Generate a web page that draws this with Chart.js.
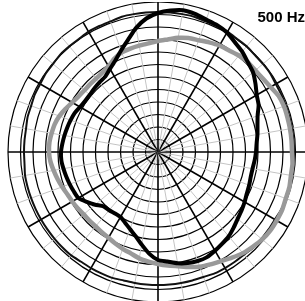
<!DOCTYPE html>
<html>
<head>
<meta charset="utf-8">
<script src="https://cdn.jsdelivr.net/npm/chart.js@4/dist/chart.umd.min.js"></script>
<style>
  html, body { margin: 0; padding: 0; background: #fff; overflow: hidden; }
  #wrap { position: relative; width: 305px; height: 301px; overflow: hidden; }
  #polar { position: absolute; left: 0; top: 2px; }
</style>
</head>
<body>
<div id="wrap">
  <canvas id="polar" width="316" height="300"></canvas>
</div>
<script>
// angles in degrees, clockwise from the top, 5 degree steps
const angles = [0,5,10,15,20,25,30,35,40,45,50,55,60,65,70,75,80,85,90,95,100,105,110,115,
  120,125,130,135,140,145,150,155,160,165,170,175,180,185,190,195,200,205,210,215,220,225,230,235,
  240,245,250,255,260,265,270,275,280,285,290,295,300,305,310,315,320,325,330,335,340,345,350,355];

// thick black curve
const blackCurve = [139,142,144,143,141,140,138,134,131,127,124,119,114,111,106,103,101,99,
  98,97,96,96,97,98,100,102,104,107,110,112,114,116,116,115,113,110,
  108,102,94,87,82,78,75,75,76,77,82,87,92,93,94,95,96,97,
  97,96,95,94,93,92,90,89,89,90,91,92,96,101,108,116,126,134];

// thick grey curve
const greyCurve = [111,113,116,118,119,121,123,124,126,127,127,128,130,133,134,134,134,134,
  134,135,135,136,136,137,137,137,136,134,132,129,126,124,122,119,116,114,
  112,110,108,105,103,101,99,98,97,97,97,98,99,100,102,104,106,108,
  109,109,108,107,105,102,99,97,96,96,96,97,99,103,106,107,108,109];

// medium black curve close to the outer rings
const outerCurve = [140,140,140,140,139,139,139,138,138,137,137,137,136,136,136,136,136,136,
  136,136,136,136,136,136,135,135,135,135,134,134,134,134,133,133,133,133,
  133,133,133,133,134,134,134,134,135,135,135,135,135,135,135,135,135,134,
  134,134,134,135,135,136,136,137,137,138,138,138,139,139,139,140,140,140];

const titleText = '500 Hz';

const titlePlugin = {
  id: 'freqLabel',
  afterDraw(chart) {
    const ctx = chart.ctx;
    ctx.save();
    ctx.fillStyle = '#000';
    ctx.font = 'bold 15px "Liberation Sans", Arial, sans-serif';
    ctx.textAlign = 'right';
    ctx.textBaseline = 'alphabetic';
    ctx.fillText(titleText, 305, 20);
    ctx.restore();
  }
};

new Chart(document.getElementById('polar'), {
  type: 'radar',
  data: {
    labels: angles,
    datasets: [
      {
        data: blackCurve,
        borderColor: '#000',
        borderWidth: 4,
        fill: false,
        pointRadius: 0,
        tension: 0.2
      },
      {
        data: greyCurve,
        borderColor: '#999',
        borderWidth: 4.5,
        fill: false,
        pointRadius: 0,
        tension: 0.2
      },
      {
        data: outerCurve,
        borderColor: '#111',
        borderWidth: 2,
        fill: false,
        pointRadius: 0,
        tension: 0.2
      }
    ]
  },
  options: {
    responsive: false,
    animation: false,
    events: [],
    layout: { padding: 0 },
    plugins: {
      legend: { display: false },
      tooltip: { enabled: false }
    },
    scales: {
      r: {
        min: 0,
        max: 150,
        ticks: { display: false, stepSize: 12.5 },
        pointLabels: { display: false },
        grid: { circular: true, color: '#000', lineWidth: 1.2 },
        angleLines: {
          color: (c) => c.index % 6 === 0 ? '#000' : (c.index % 2 === 0 ? '#c4c4c4' : 'rgba(0,0,0,0)'),
          lineWidth: (c) => c.index % 6 === 0 ? 1.6 : 1
        }
      }
    }
  },
  plugins: [titlePlugin]
});
</script>
</body>
</html>
